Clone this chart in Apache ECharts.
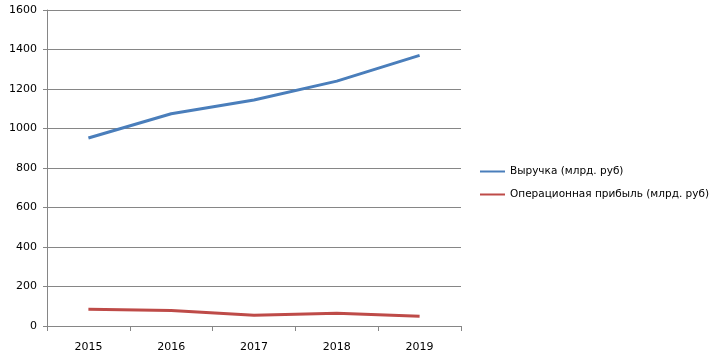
<!DOCTYPE html>
<html><head><meta charset="utf-8">
<script src="https://cdn.jsdelivr.net/npm/echarts@6/dist/echarts.min.js"></script>
<style>html,body{margin:0;padding:0;background:#fff}#c{width:717px;height:360px}</style>
</head><body><div id="c"></div>
<script>
const years = ['2015','2016','2017','2018','2019'];
const revenue = [952, 1075, 1144, 1240, 1370];
const profit = [85, 79, 54, 64, 49];
const seriesNames = ['Выручка (млрд. руб)', 'Операционная прибыль (млрд. руб)'];

const chart = echarts.init(document.getElementById('c'));
const font = 'DejaVu Sans';
chart.setOption({
  animation: false,
  backgroundColor: '#fff',
  grid: {left: 47, right: 256, top: 10, bottom: 34},
  legend: {
    orient: 'vertical', left: 475, top: 161, itemGap: 12,
    icon: 'rect', itemWidth: 25, itemHeight: 2,
    textStyle: {fontFamily: font, fontSize: 10.5, color: '#000'},
    data: seriesNames
  },
  xAxis: {
    type: 'category', data: years, boundaryGap: true,
    axisLine: {lineStyle: {color: '#868686'}},
    axisTick: {show: true, length: 5, alignWithLabel: false, lineStyle: {color: '#868686'}},
    axisLabel: {fontFamily: font, fontSize: 11, color: '#000', margin: 16}
  },
  yAxis: {
    type: 'value', min: 0, max: 1600, interval: 200,
    axisLine: {show: true, lineStyle: {color: '#868686'}},
    axisTick: {show: true, length: 4, lineStyle: {color: '#868686'}},
    splitLine: {lineStyle: {color: '#868686'}},
    axisLabel: {fontFamily: font, fontSize: 11, color: '#000', margin: 10, formatter: v => String(v)}
  },
  series: [
    {name: seriesNames[0], type: 'line', data: revenue, symbol: 'none', lineStyle: {color: '#4a7ebb', width: 3}, itemStyle: {color: '#4a7ebb'}},
    {name: seriesNames[1], type: 'line', data: profit, symbol: 'none', lineStyle: {color: '#be4b48', width: 3}, itemStyle: {color: '#be4b48'}}
  ]
});
</script></body></html>
